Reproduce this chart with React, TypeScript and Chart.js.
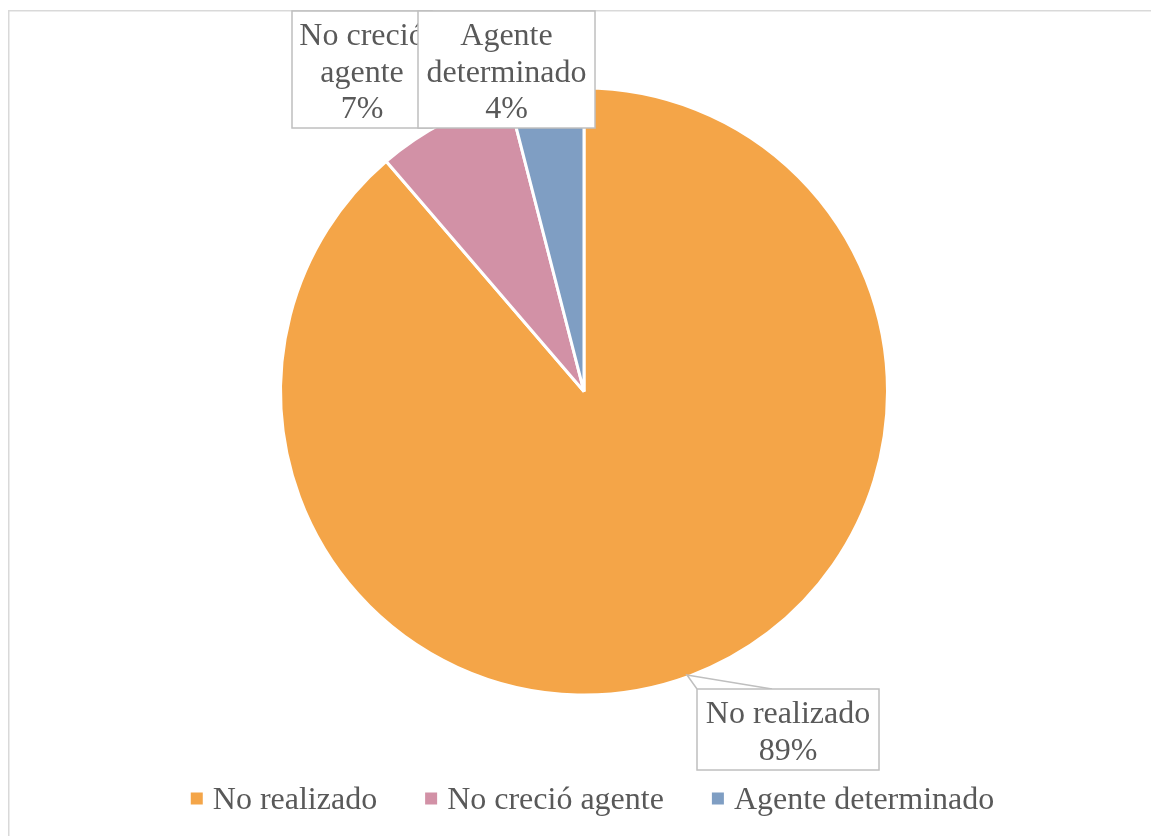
import React, { useEffect, useRef } from "react";
import { Chart, registerables } from "chart.js";

Chart.register(...registerables);

const categories = ["No realizado", "No creció agente", "Agente determinado"];
const values = [88.7, 7.3, 4.0];
const colors = ["#F4A548", "#D291A6", "#7F9EC3"];

const FONT = '"Liberation Serif", "Times New Roman", serif';
const TEXT_COLOR = "#595959";
const BOX_BORDER = "#BFBFBF";

// callout box layout (pixels on the canvas)
const boxLayout = [
  { left: 697, top: 689, w: 182, h: 81, tx: 788, lines: ["No realizado"], base: 723, pointer: [[697, 689], [687, 675], [772, 689]] },
  { left: 292, top: 11, w: 140, h: 117, tx: 362, lines: ["No creció", "agente"], base: 45, pointer: null },
  { left: 418, top: 11, w: 177, h: 117, tx: 506.5, lines: ["Agente", "determinado"], base: 45, pointer: null },
];

const calloutPlugin = {
  id: "calloutLabels",
  beforeDraw(chart: any) {
    const ctx = chart.ctx;
    ctx.save();
    ctx.strokeStyle = "#D9D9D9";
    ctx.lineWidth = 1.5;
    ctx.strokeRect(8.75, 10.75, 1200, 900);
    ctx.restore();
  },
  afterDatasetsDraw(chart: any) {
    const ctx = chart.ctx;
    const data = chart.data.datasets[0].data as number[];
    const total = data.reduce((a: number, b: number) => a + b, 0);
    ctx.save();
    boxLayout.forEach((b, i) => {
      const pct = Math.round((data[i] / total) * 100) + "%";
      ctx.fillStyle = "#FFFFFF";
      ctx.strokeStyle = BOX_BORDER;
      ctx.lineWidth = 1.5;
      if (b.pointer) {
        ctx.beginPath();
        ctx.moveTo(b.pointer[0][0], b.pointer[0][1]);
        ctx.lineTo(b.pointer[1][0], b.pointer[1][1]);
        ctx.lineTo(b.pointer[2][0], b.pointer[2][1]);
        ctx.closePath();
        ctx.fill();
        ctx.beginPath();
        ctx.moveTo(b.pointer[0][0], b.pointer[0][1]);
        ctx.lineTo(b.pointer[1][0], b.pointer[1][1]);
        ctx.lineTo(b.pointer[2][0], b.pointer[2][1]);
        ctx.stroke();
      }
      ctx.fillRect(b.left, b.top, b.w, b.h);
      ctx.strokeRect(b.left, b.top, b.w, b.h);
      ctx.fillStyle = TEXT_COLOR;
      ctx.font = `32px ${FONT}`;
      ctx.textAlign = "center";
      ctx.textBaseline = "alphabetic";
      const lines = [...b.lines, pct];
      lines.forEach((t, j) => {
        ctx.fillText(t, b.tx, b.base + j * 36.7);
      });
    });

    // legend
    ctx.font = `32px ${FONT}`;
    ctx.textAlign = "left";
    const labels = chart.data.labels as string[];
    const sq = 12;
    const gap = 10;
    const spacing = 48;
    const widths = labels.map((l) => ctx.measureText(l).width);
    const totalW = widths.reduce((a, w) => a + sq + gap + w, 0) + spacing * (labels.length - 1);
    let x = 592.5 - totalW / 2;
    const base = 809;
    labels.forEach((l, i) => {
      ctx.fillStyle = colors[i];
      ctx.fillRect(x, 792.5, sq, sq);
      ctx.fillStyle = TEXT_COLOR;
      ctx.fillText(l, x + sq + gap, base);
      x += sq + gap + widths[i] + spacing;
    });
    ctx.restore();
  },
};

export default function App() {
  const ref = useRef<HTMLCanvasElement | null>(null);
  useEffect(() => {
    if (!ref.current) return;
    const chart = new Chart(ref.current, {
      type: "pie",
      data: {
        labels: categories,
        datasets: [
          {
            data: values,
            backgroundColor: colors,
            borderColor: "#FFFFFF",
            borderWidth: 3,
            hoverOffset: 0,
            offset: 0,
          },
        ],
      },
      options: {
        responsive: false,
        animation: false,
        layout: { padding: { left: 17, right: 0, top: 86.5, bottom: 139.5 } },
        plugins: {
          legend: { display: false },
          tooltip: { enabled: false },
        },
      },
      plugins: [calloutPlugin],
    });
    return () => chart.destroy();
  }, []);
  return (
    <canvas
      ref={ref}
      width={1151}
      height={836}
      style={{ position: "fixed", left: 0, top: 0, display: "block", background: "#FFFFFF" }}
    />
  );
}
